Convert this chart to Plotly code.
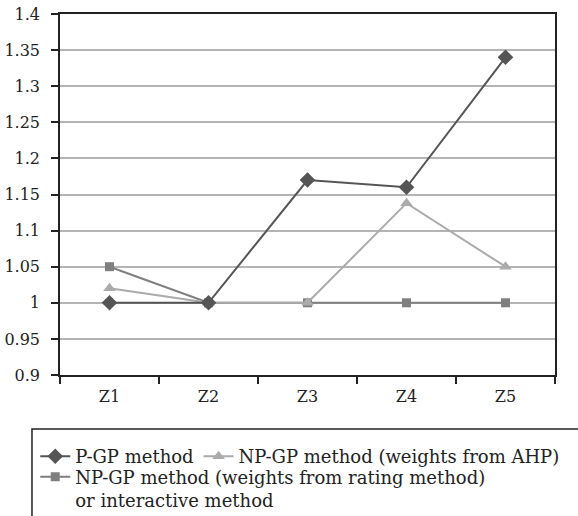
import plotly.graph_objects as go

categories = ["Z1", "Z2", "Z3", "Z4", "Z5"]
pgp = [1.0, 1.0, 1.17, 1.16, 1.34]
npgp_ahp = [1.02, 1.0, 1.0, 1.138, 1.05]
npgp_rating = [1.05, 1.0, 1.0, 1.0, 1.0]

names = ["P-GP method", "NP-GP method (weights from AHP)",
         "NP-GP method (weights from rating method)<br>or interactive method"]

FONT = "DejaVu Serif"
INK = "#222222"

fig = go.Figure()
fig.add_trace(go.Scatter(x=categories, y=npgp_rating, name=names[2], mode="lines+markers",
                         line=dict(color="#7f7f7f", width=2),
                         marker=dict(symbol="square", size=9, color="#7f7f7f"),
                         legend="legend2"))
fig.add_trace(go.Scatter(x=categories, y=npgp_ahp, name=names[1], mode="lines+markers",
                         line=dict(color="#ababab", width=2),
                         marker=dict(symbol="triangle-up", size=11, color="#ababab"),
                         legend="legend", legendrank=2))
fig.add_trace(go.Scatter(x=categories, y=pgp, name=names[0], mode="lines+markers",
                         line=dict(color="#555555", width=2),
                         marker=dict(symbol="diamond", size=12, color="#555555"),
                         legend="legend", legendrank=1))

# legend frame (extends past the page edges like the reference)
fig.add_shape(type="rect", xref="paper", yref="paper",
              x0=-0.0566, x1=1.3, y0=-0.1496, y1=-0.6,
              line=dict(color=INK, width=1.5), fillcolor="rgba(0,0,0,0)", layer="above")

legend_font = dict(family=FONT, size=18, color=INK)
fig.update_layout(
    width=578, height=516,
    margin=dict(l=60, r=23, t=14, b=141, autoexpand=False),
    paper_bgcolor="white", plot_bgcolor="white",
    font=dict(family=FONT, size=16, color=INK),
    showlegend=True,
    legend=dict(orientation="h", x=-0.05, xanchor="left", y=-0.1745, yanchor="top",
                borderwidth=0, bgcolor="rgba(0,0,0,0)", font=legend_font,
                traceorder="normal", itemsizing="trace"),
    legend2=dict(orientation="h", x=-0.05, xanchor="left", y=-0.2313, yanchor="top",
                 borderwidth=0, bgcolor="rgba(0,0,0,0)", font=legend_font,
                 valign="top", itemsizing="trace"),
    xaxis=dict(type="category", showline=True, linecolor=INK, linewidth=1.5,
               mirror=True, ticks="outside", ticklen=7, tickcolor=INK, tickwidth=1.5,
               tickson="boundaries", showgrid=False, range=[-0.5, 4.5],
               ticklabelstandoff=6,
               tickfont=dict(family=FONT, size=16, color=INK)),
    yaxis=dict(range=[0.9, 1.4], dtick=0.05, tick0=0.9, showline=True, linecolor=INK,
               linewidth=1.5, mirror=True, ticks="outside", ticklen=7, tickcolor=INK,
               tickwidth=1.5, showgrid=True, gridcolor="#b4b4b4", gridwidth=1.5,
               zeroline=False, ticklabelstandoff=8,
               tickfont=dict(family=FONT, size=16, color=INK)),
)

fig.write_html("out.html")
